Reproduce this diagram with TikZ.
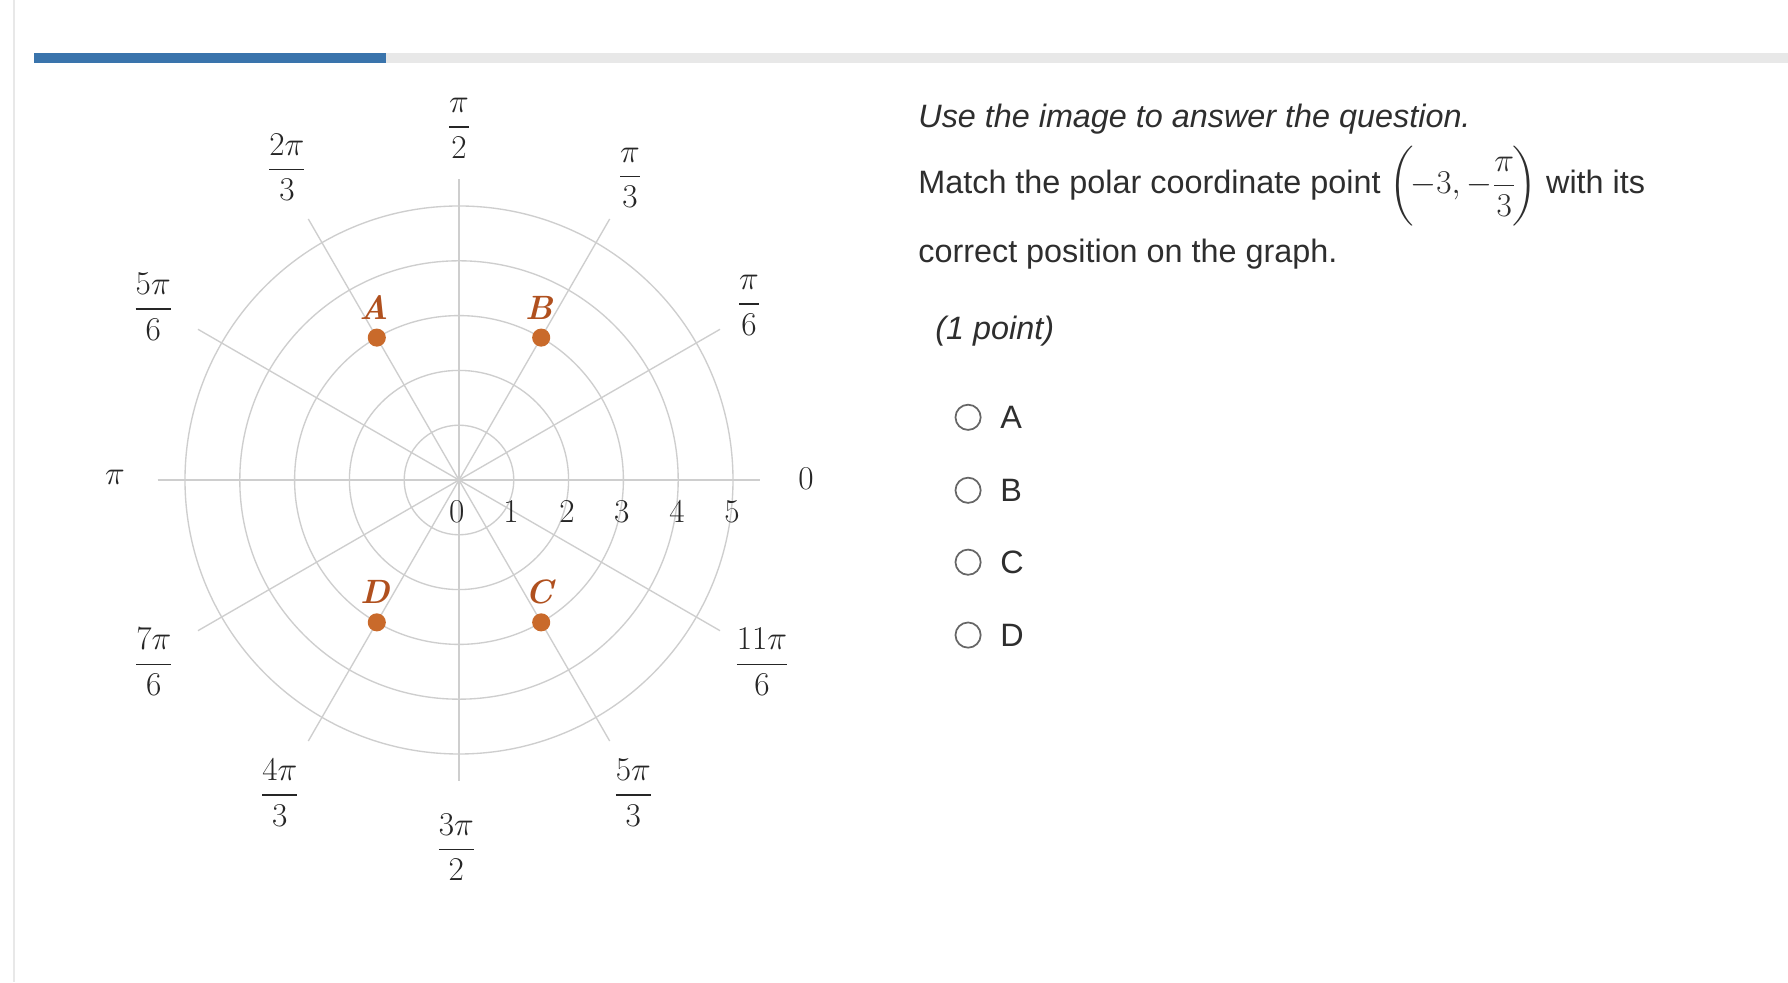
\documentclass[tikz,border=0pt]{standalone}
\usepackage{amsmath}
\usepackage{fontspec}
\newfontfamily\qsans{Liberation Sans}
\usepackage{tikz}

\definecolor{ringgray}{RGB}{206,206,206}
\definecolor{dotorange}{RGB}{201,106,43}
\definecolor{labbrown}{RGB}{176,80,30}
\definecolor{barblue}{RGB}{58,116,172}
\definecolor{bargray}{RGB}{232,232,232}

\begin{document}
\begin{tikzpicture}[x=1cm,y=1cm,
   grid line/.style={draw=ringgray,line width=0.7pt},
   tick/.style={font=\fontsize{16}{19}\selectfont,text=black!85}]

\tikzstyle {pt dot} = [circle,fill=dotorange,inner sep=0pt,minimum size=0.33cm];
\tikzstyle {pt label} = [font=\fontsize{17.5}{20}\selectfont\bfseries\itshape,text=labbrown];
\tikzstyle {qtext} = [anchor=base west,inner sep=0pt,text=black!82,font=\fontsize{16.8}{20}\qsans];
\tikzstyle {radio} = [circle,draw=black!60,line width=0.9pt,minimum size=0.46cm,inner sep=0pt];
\tikzstyle {opt} = [anchor=west,inner sep=0pt,text=black!82,font=\fontsize{16.8}{20}\qsans];

\useasboundingbox[fill=white] (-8.376,-9.161) rectangle (24.252,8.759);

% frame and bar
\draw[draw=black!9,line width=1.2pt] (-8.12,-9.161) -- (-8.12,8.759);
\fill[bargray] (-1.332,7.609) rectangle (24.252,7.792);
\fill[barblue] (-7.755,7.609) rectangle (-1.332,7.792);

\coordinate (O) at (0,0);

\foreach \r in {1,...,5}
  \draw[grid line] (O) circle (\r);
\foreach \a in {30,60,90,120,150,210,240,270,300,330}
  \draw[grid line] (O) -- (\a:5.5);
\draw[grid line,line width=1.1pt] (180:5.5) -- (0:5.5);

\node[tick] (t0) at (6.33,0.02){$0$};
\node[tick] (t30) at (5.29,3.19){$\dfrac{\pi}{6}$};
\node[tick] (t60) at (3.12,5.51){$\dfrac{\pi}{3}$};
\node[tick] (t90) at (0,6.42){$\dfrac{\pi}{2}$};
\node[tick] (t120) at (-3.14,5.71){$\dfrac{2\pi}{3}$};
\node[tick] (t150) at (-5.58,3.16){$\dfrac{5\pi}{6}$};
\node[tick] (t180) at (-6.28,0.04){$\pi$};
\node[tick] (t210) at (-5.57,-3.32){$\dfrac{7\pi}{6}$};
\node[tick] (t240) at (-3.27,-5.71){$\dfrac{4\pi}{3}$};
\node[tick] (t270) at (-0.05,-6.70){$\dfrac{3\pi}{2}$};
\node[tick] (t300) at (3.18,-5.71){$\dfrac{5\pi}{3}$};
\node[tick] (t330) at (5.53,-3.32){$\dfrac{11\pi}{6}$};

\node[tick] (r0) at (-0.04,-0.58){$0$};
\node[tick] (r1) at (0.95,-0.58){$1$};
\node[tick] (r2) at (1.97,-0.58){$2$};
\node[tick] (r3) at (2.97,-0.58){$3$};
\node[tick] (r4) at (3.98,-0.58){$4$};
\node[tick] (r5) at (4.98,-0.58){$5$};

\node[pt dot] (A) at (120:3){};
\node[pt dot] (B) at (60:3){};
\node[pt dot] (C) at (300:3){};
\node[pt dot] (D) at (240:3){};
\node[pt label] (la) at (-1.55,3.14){A};
\node[pt label] (lb) at (1.46,3.14){B};
\node[pt label] (lc) at (1.46,-2.04){C};
\node[pt label] (ld) at (-1.53,-2.04){D};

\node[qtext,font=\fontsize{16.8}{20}\qsans\itshape] (q1) at (8.376,6.43){Use the image to answer the question.};
\node[qtext] (q2) at (8.376,5.22){Match the polar coordinate point $\left(\mkern-2mu-3,-\dfrac{\pi}{3}\rule[-12pt]{0pt}{34pt}\mkern-2mu\right)$ with its};
\node[qtext] (q3) at (8.376,3.97){correct position on the graph.};
\node[qtext,font=\fontsize{16.8}{20}\qsans\itshape] (q4) at (8.686,2.56){(1 point)};

\node[radio] (ra) at (9.29,1.144){};
\node[radio] (rb) at (9.29,-0.188){};
\node[radio] (rc) at (9.29,-1.50){};
\node[radio] (rd) at (9.29,-2.83){};
\node[opt] (oa) at (9.87,1.144){A};
\node[opt] (ob) at (9.87,-0.188){B};
\node[opt] (oc) at (9.87,-1.50){C};
\node[opt] (od) at (9.87,-2.83){D};

\end{tikzpicture}
\end{document}
